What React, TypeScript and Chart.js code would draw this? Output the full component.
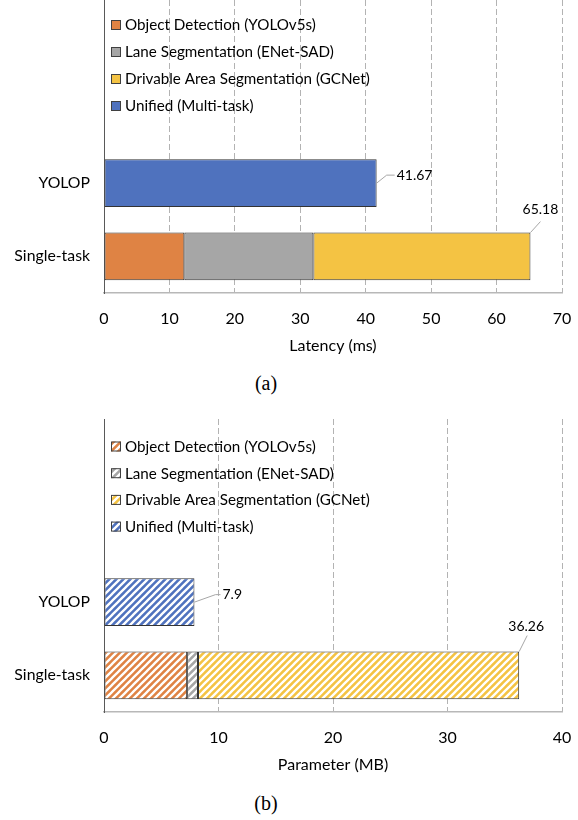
import React, { useEffect, useRef } from "react";
import { Chart, registerables } from "chart.js";

Chart.register(...registerables);

// ---------- data ----------
const categories = ["", "", "YOLOP", "Single-task"];
const seriesNames = [
  "Object Detection (YOLOv5s)",
  "Lane Segmentation (ENet-SAD)",
  "Drivable Area Segmentation (GCNet)",
  "Unified (Multi-task)",
];
const seriesColors = ["#DF8344", "#A6A6A6", "#F4C343", "#4F72BE"];

const latencyObjectDetection = [null, null, null, 12.28];
const latencyLaneSegmentation = [null, null, null, 19.72];
const latencyDrivableArea = [null, null, null, 33.18];
const latencyUnified = [null, null, 41.67, null];
const latencyTicks = [0, 10, 20, 30, 40, 50, 60, 70];

const paramObjectDetection = [null, null, null, 7.26];
const paramLaneSegmentation = [null, null, null, 0.95];
const paramDrivableArea = [null, null, null, 28.05];
const paramUnified = [null, null, 7.9, null];
const paramTicks = [0, 10, 20, 30, 40];

// ---------- styling ----------
const FONT = "Lato, 'Open Sans', sans-serif";
const CANVAS_W = 578;
const CANVAS_H = 365;

type Pt = [number, number];
type LabelStyle = {
  anchor: "center" | "top";
  points: Pt[];
  text: Pt;
  align: CanvasTextAlign;
};

function makeHatch(color: string): CanvasPattern {
  const s = 7;
  const c = document.createElement("canvas");
  c.width = s;
  c.height = s;
  const g = c.getContext("2d")!;
  g.fillStyle = color;
  g.fillRect(0, 0, s, s);
  g.strokeStyle = "#ffffff";
  g.lineWidth = 2.3;
  g.beginPath();
  g.moveTo(-1, s + 1);
  g.lineTo(s + 1, -1);
  g.moveTo(-2, 2);
  g.lineTo(2, -2);
  g.moveTo(s - 2, s + 2);
  g.lineTo(s + 2, s - 2);
  g.stroke();
  return g.createPattern(c, "repeat")!;
}

function zeroPadding(s: any) {
  s.paddingLeft = 0;
  s.paddingRight = 0;
  s.paddingTop = 0;
  s.paddingBottom = 0;
}

type Props = {
  top: number;
  series: (number | null)[][];
  ticks: number[];
  title: string;
  hatch: boolean;
  legendY0: number;
  legendStep: number;
  labelStyles: Record<number, LabelStyle>;
};

function HBarChart(props: Props) {
  const ref = useRef<HTMLCanvasElement>(null);
  useEffect(() => {
    const { series, ticks, title, hatch, legendY0, legendStep, labelStyles } = props;
    const fills = seriesColors.map((c) => (hatch ? makeHatch(c) : c));

    const legendPlugin = {
      id: "insideLegend",
      afterDatasetsDraw(chart: any) {
        const ctx = chart.ctx as CanvasRenderingContext2D;
        const area = chart.chartArea;
        ctx.save();
        ctx.font = `15.2px ${FONT}`;
        ctx.textBaseline = "middle";
        ctx.textAlign = "left";
        seriesNames.forEach((name, i) => {
          const y = area.top + legendY0 + i * legendStep;
          ctx.fillStyle = fills[i] as any;
          ctx.fillRect(111, y - 5, 10, 10);
          ctx.strokeStyle = "#404040";
          ctx.lineWidth = 1;
          ctx.strokeRect(111.5, y - 4.5, 9, 9);
          ctx.fillStyle = "#000000";
          ctx.fillText(name, 125, y + 0.5);
        });
        ctx.restore();
      },
    };

    const totalsPlugin = {
      id: "totals",
      afterDatasetsDraw(chart: any) {
        const ctx = chart.ctx as CanvasRenderingContext2D;
        const xs = chart.scales.x;
        const ys = chart.scales.y;
        ctx.save();
        categories.forEach((_, i) => {
          const st = labelStyles[i];
          if (!st) return;
          let total = 0;
          let barH = 0;
          series.forEach((s, di) => {
            const v = s[i];
            if (v != null) {
              total += v;
              const el: any = chart.getDatasetMeta(di).data[i];
              if (el) barH = el.height;
            }
          });
          const xEnd = xs.getPixelForValue(total);
          const yc = ys.getPixelForValue(i);
          const ay = st.anchor === "top" ? yc - barH / 2 : yc;
          ctx.strokeStyle = "#a6a6a6";
          ctx.lineWidth = 1;
          ctx.beginPath();
          ctx.moveTo(xEnd, ay);
          st.points.forEach(([dx, dy]) => ctx.lineTo(xEnd + dx, ay + dy));
          ctx.stroke();
          ctx.fillStyle = "#000000";
          ctx.font = `14px ${FONT}`;
          ctx.textAlign = st.align;
          ctx.textBaseline = "middle";
          const label = parseFloat(total.toFixed(2)).toString();
          ctx.fillText(label, xEnd + st.text[0], ay + st.text[1]);
        });
        ctx.restore();
      },
    };

    const chart = new Chart(ref.current!, {
      type: "bar",
      data: {
        labels: categories,
        datasets: series.map((s, i) => ({
          label: seriesNames[i],
          data: s as any,
          backgroundColor: fills[i] as any,
          borderColor: "#333333",
          borderWidth: 1,
          borderSkipped: false,
          barPercentage: 0.65,
          categoryPercentage: 1,
        })),
      },
      options: {
        indexAxis: "y",
        animation: false,
        responsive: false,
        devicePixelRatio: 1,
        layout: { padding: { left: 0, right: 16, top: 0, bottom: 0 } },
        plugins: {
          legend: { display: false },
          tooltip: { enabled: false },
        },
        scales: {
          x: {
            stacked: true,
            min: ticks[0],
            max: ticks[ticks.length - 1],
            afterFit: (s: any) => {
              s.height = 72;
              zeroPadding(s);
            },
            ticks: {
              stepSize: ticks[1] - ticks[0],
              color: "#000000",
              font: { family: FONT, size: 16 },
              padding: 16.5,
              maxRotation: 0,
            },
            grid: {
              color: "#b3b3b3",
              lineWidth: 1,
              drawTicks: false,
            },
            border: { display: true, color: "#b8b8b8", width: 1.5, dash: [6, 3] },
            title: {
              display: true,
              text: title,
              color: "#000000",
              font: { family: FONT, size: 16 },
              padding: { top: 0, bottom: 10 },
            },
          },
          y: {
            stacked: true,
            afterFit: (s: any) => {
              s.width = 104;
              zeroPadding(s);
            },
            ticks: {
              color: "#000000",
              font: { family: FONT, size: 15.8 },
              padding: 14,
            },
            grid: { display: false, drawTicks: false },
            border: { display: true, color: "#595959", width: 1 },
          },
        },
      },
      plugins: [totalsPlugin, legendPlugin],
    } as any);
    return () => chart.destroy();
  }, []);
  return (
    <canvas
      ref={ref}
      width={CANVAS_W}
      height={CANVAS_H}
      style={{ position: "absolute", left: 0, top: props.top, width: CANVAS_W, height: CANVAS_H }}
    />
  );
}

const captionStyle: React.CSSProperties = {
  position: "absolute",
  left: 216,
  width: 100,
  textAlign: "center",
  fontFamily: "'Liberation Serif', 'Times New Roman', serif",
  fontSize: 20,
  lineHeight: "24px",
  color: "#000",
};

export default function App() {
  return (
    <div style={{ position: "absolute", left: 0, top: 0, width: 578, height: 820, background: "#fff" }}>
      <HBarChart
        top={0}
        series={[latencyObjectDetection, latencyLaneSegmentation, latencyDrivableArea, latencyUnified]}
        ticks={latencyTicks}
        title="Latency (ms)"
        hatch={false}
        legendY0={25}
        legendStep={27}
        labelStyles={{
          2: { anchor: "center", points: [[10, -8], [18, -8]], text: [20, -8], align: "left" },
          3: { anchor: "top", points: [[10, -11]], text: [10, -23], align: "center" },
        }}
      />
      <div style={{ ...captionStyle, top: 371 }}>(a)</div>
      <HBarChart
        top={419}
        series={[paramObjectDetection, paramLaneSegmentation, paramDrivableArea, paramUnified]}
        ticks={paramTicks}
        title="Parameter (MB)"
        hatch={true}
        legendY0={27.5}
        legendStep={26.7}
        labelStyles={{
          2: { anchor: "center", points: [[21, -7.5], [26, -7.5]], text: [28, -8], align: "left" },
          3: { anchor: "top", points: [[8, -16]], text: [7, -25.5], align: "center" },
        }}
      />
      <div style={{ ...captionStyle, top: 791 }}>(b)</div>
    </div>
  );
}
